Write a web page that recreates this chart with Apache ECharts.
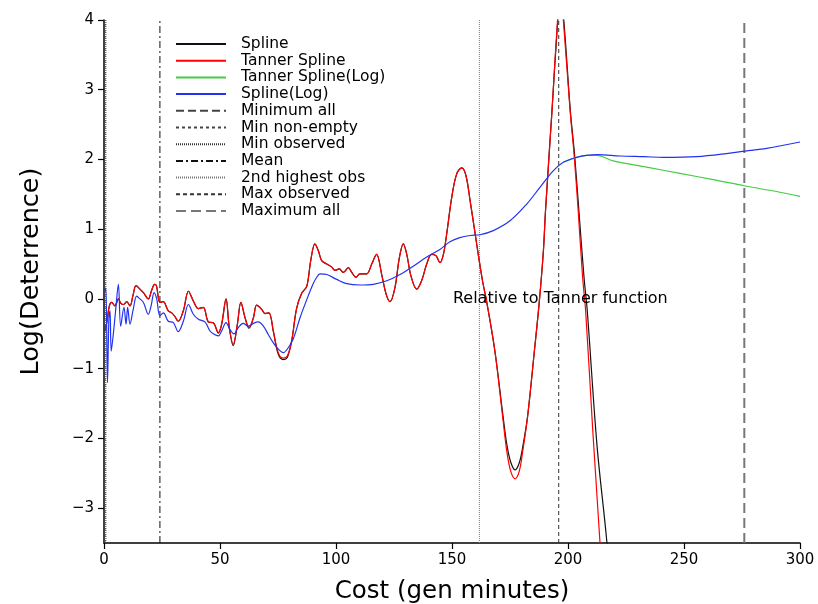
<!DOCTYPE html>
<html>
<head>
<meta charset="utf-8">
<title>Log(Deterrence) vs Cost</title>
<script src="https://cdn.jsdelivr.net/npm/echarts@6/dist/echarts.min.js"></script>
<style>
  html, body { margin: 0; padding: 0; background: #fff; }
  #chart { width: 818px; height: 604px; }
</style>
</head>
<body>
<div id="chart"></div>
<script>
// Axis bounds and tick labels
const xMin = 0, xMax = 300;
const yMin = -3.5, yMax = 4;
const xTicks = [0, 50, 100, 150, 200, 250, 300];
const yTicks = [-3, -2, -1, 0, 1, 2, 3, 4];

// Fitted deterrence curves: [cost, log(deterrence)]
const splineData = [
  [0.5,-0.45],[1.3,-0.32],[2.3,-0.1],[3.3,-0.05],[4.7,-0.1],[6.2,0.0],[7.2,-0.06],[8.3,-0.08],
  [9.8,-0.04],[11.2,-0.1],[12.5,0.05],[13.8,0.19],[15.5,0.14],[17,0.09],[19.1,0.0],[20.5,0.12],
  [21.8,0.21],[22.6,0.19],[24.1,-0.05],[25.5,-0.04],[27.7,-0.17],[29.2,-0.2],[30.5,-0.25],[32,-0.32],
  [34.2,-0.17],[36.4,0.11],[38.5,-0.03],[40.7,-0.14],[42.8,-0.12],[45,-0.33],[47.1,-0.34],[49.3,-0.49],
  [50.7,-0.37],[52.6,0.0],[54,-0.41],[55.7,-0.67],[57.5,-0.36],[59,-0.05],[60.8,-0.27],[62.5,-0.42],
  [64.4,-0.27],[65.8,-0.09],[68,-0.15],[69.4,-0.21],[71.1,-0.2],[73,-0.47],[75.1,-0.79],[77.3,-0.87],
  [79,-0.84],[80.9,-0.6],[83,-0.14],[85.2,0.08],[87.4,0.18],[89.1,0.55],[90.9,0.79],[92.4,0.69],
  [93.8,0.55],[96,0.5],[98.1,0.46],[99.6,0.41],[101.4,0.43],[103.2,0.38],[105.3,0.45],[106.8,0.38],
  [108.6,0.31],[110.3,0.36],[113.2,0.36],[115.4,0.5],[117.5,0.64],[119.7,0.35],[121.6,0.07],[123.3,-0.04],
  [125.4,0.16],[127.3,0.59],[129,0.79],[130.5,0.64],[132.3,0.33],[134.8,0.14],[136.9,0.26],[139.1,0.5],
  [141.2,0.64],[143.1,0.62],[144.8,0.52],[146.3,0.64],[147.7,0.93],[149.9,1.46],[152,1.79],[154.2,1.88],
  [156,1.77],[157.8,1.41],[159.9,0.95],[161.5,0.6],[163.2,0.25],[165,-0.05],[168.5,-0.75],[172,-1.68],
  [173.7,-2.1],[175.4,-2.35],[177.2,-2.45],[179,-2.35],[180.6,-2.1],[182.6,-1.68],[185.5,-0.75],[187.6,-0.05],
  [189.4,0.69],[190.3,1.26],[193.1,2.7],[195.5,3.95],[196.8,4.4],[198.3,3.95],[201,2.7],[202.8,2.08],
  [204.7,1.26],[206.9,0.31],[208.3,-0.17],[212.5,-2.1],[216.8,-3.5],[218,-4.1]
];
const tannerSplineData = [
  [0.5,-0.45],[1.3,-0.32],[2.3,-0.1],[3.3,-0.05],[4.7,-0.1],[6.2,0.0],[7.2,-0.06],[8.3,-0.08],
  [9.8,-0.04],[11.2,-0.1],[12.5,0.05],[13.8,0.19],[15.5,0.14],[17,0.09],[19.1,0.0],[20.5,0.12],
  [21.8,0.21],[22.6,0.19],[24.1,-0.05],[25.5,-0.04],[27.7,-0.17],[29.2,-0.2],[30.5,-0.25],[32,-0.32],
  [34.2,-0.17],[36.4,0.11],[38.5,-0.03],[40.7,-0.14],[42.8,-0.12],[45,-0.33],[47.1,-0.34],[49.3,-0.48],
  [50.7,-0.36],[52.6,0.0],[54,-0.41],[55.7,-0.65],[57.5,-0.36],[59,-0.05],[60.8,-0.27],[62.5,-0.41],
  [64.4,-0.27],[65.8,-0.09],[68,-0.15],[69.4,-0.21],[71.1,-0.2],[73,-0.46],[75.1,-0.77],[77.3,-0.85],
  [79,-0.82],[80.9,-0.6],[83,-0.14],[85.2,0.08],[87.4,0.18],[89.1,0.55],[90.9,0.79],[92.4,0.69],
  [93.8,0.55],[96,0.5],[98.1,0.46],[99.6,0.41],[101.4,0.43],[103.2,0.38],[105.3,0.45],[106.8,0.38],
  [108.6,0.31],[110.3,0.36],[113.2,0.36],[115.4,0.5],[117.5,0.64],[119.7,0.35],[121.6,0.07],[123.3,-0.04],
  [125.4,0.16],[127.3,0.59],[129,0.79],[130.5,0.64],[132.3,0.33],[134.8,0.14],[136.9,0.26],[139.1,0.5],
  [141.2,0.64],[143.1,0.62],[144.8,0.52],[146.3,0.64],[147.7,0.93],[149.9,1.46],[152,1.79],[154.2,1.88],
  [156,1.77],[157.8,1.41],[159.9,0.95],[161.5,0.6],[163.2,0.25],[165,-0.05],[168.5,-0.75],[171.9,-1.71],
  [173.6,-2.18],[175.3,-2.47],[177.2,-2.58],[179,-2.47],[180.5,-2.18],[182.5,-1.71],[185.5,-0.75],[187.6,-0.05],
  [189.4,0.69],[190.3,1.26],[193.1,2.7],[195.4,3.95],[196.7,4.4],[198.1,3.95],[200.9,2.7],[202.6,2.08],
  [204.4,1.26],[206.3,0.31],[207.6,-0.17],[210.7,-1.9],[213.8,-3.5],[215,-4.2]
];
const tannerSplineLogData = [
  [198,1.96],[203.7,2.03],[208,2.06],[212.4,2.06],[219.5,1.98],[233.9,1.89],[248.3,1.80],
  [262.6,1.71],[276.3,1.62],[291.4,1.53],[300,1.47]
];
const splineLogData = [
  [0.3,0.1],[0.8,0.16],[1.5,-1.2],[2.1,-0.3],[2.6,-0.17],[3.1,-0.75],[4,-0.51],[5,-0.17],
  [6.2,0.21],[7.2,-0.39],[8.6,-0.12],[9.5,-0.36],[10.2,-0.12],[11.2,-0.36],[12.6,-0.15],[14.1,0.04],
  [15.5,0.0],[17,-0.05],[19.1,-0.22],[20.3,-0.1],[21.6,0.09],[22.7,0.0],[24.1,-0.24],[25.6,-0.2],
  [27.7,-0.32],[29.9,-0.34],[32,-0.47],[34.2,-0.32],[36.4,-0.08],[38.5,-0.22],[40.7,-0.29],[43.5,-0.33],
  [45.7,-0.46],[47.1,-0.5],[49.3,-0.53],[50.7,-0.46],[52.6,-0.34],[54.3,-0.44],[56,-0.5],[57.9,-0.41],
  [60,-0.35],[62.2,-0.39],[64.4,-0.35],[66.5,-0.33],[68.7,-0.39],[70.8,-0.51],[73,-0.63],[75.1,-0.72],
  [77.3,-0.77],[79.4,-0.7],[81.6,-0.57],[84.5,-0.27],[87.4,-0.01],[90.2,0.22],[91.5,0.3],[93.1,0.36],
  [96,0.35],[100.3,0.28],[104.6,0.22],[110.3,0.2],[116.1,0.21],[121.9,0.26],[127.6,0.35],[133.3,0.47],
  [139.1,0.6],[144.8,0.71],[149.1,0.82],[153.4,0.88],[157.8,0.91],[162,0.92],[167.8,0.98],[175,1.12],
  [182.2,1.36],[187.9,1.6],[193.7,1.84],[198,1.96],[203.7,2.03],[208,2.06],[213,2.07],[222.4,2.05],
  [233,2.04],[241.1,2.03],[255.5,2.04],[269.8,2.09],[276.3,2.12],[285.6,2.16],[300,2.25]
];

// Reference costs marked by vertical lines
const refNames = ['Minimum all', 'Min non-empty', 'Min observed', 'Mean', '2nd highest obs', 'Max observed', 'Maximum all'];
const refCosts = [0, 0.4, 0.8, 24.1, 161.8, 196, 276];

const annotationText = 'Relative to Tanner function';
const annotationAt = [150.4, 0];

// Styling for the reference lines (same order as refNames)
const refStyles = [
  { color: '#444', width: 1, type: [8, 4] },
  { color: '#444', width: 1, type: [3, 3] },
  { color: '#333', width: 1, type: [1, 1] },
  { color: '#111', width: 1, type: [7, 3, 2, 3] },
  { color: '#777', width: 1, type: [1, 1] },
  { color: '#333', width: 1, type: [4, 3] },
  { color: '#777', width: 2, type: [10, 5] }
];

const curveDefs = [
  { name: 'Spline', data: splineData, color: '#111' },
  { name: 'Tanner Spline', data: tannerSplineData, color: '#ff0000' },
  { name: 'Tanner Spline(Log)', data: tannerSplineLogData, color: '#44cc44' },
  { name: 'Spline(Log)', data: splineLogData, color: '#2233ee' }
];

const FONT = 'DejaVu Sans';
const minus = (v) => String(v).replace('-', '\u2212');

const series = [];
refNames.forEach((name, i) => {
  series.push({
    name: name,
    type: 'line',
    data: [[refCosts[i], yMin], [refCosts[i], yMax]],
    symbol: 'none',
    lineStyle: refStyles[i],
    itemStyle: { color: refStyles[i].color },
    silent: true,
    z: 1
  });
});
curveDefs.forEach((c) => {
  series.push({
    name: c.name,
    type: 'line',
    data: c.data,
    smooth: 0.35,
    symbol: 'none',
    clip: true,
    lineStyle: { color: c.color, width: 1.2 },
    itemStyle: { color: c.color },
    z: 3
  });
});
series.push({
  name: 'annotation',
  type: 'scatter',
  data: [annotationAt],
  symbolSize: 0,
  silent: true,
  itemStyle: { opacity: 1 },
  label: {
    show: true,
    position: 'right',
    distance: 0,
    formatter: annotationText,
    color: '#000',
    opacity: 1,
    fontFamily: FONT,
    fontSize: 16
  },
  z: 5
});

const chart = echarts.init(document.getElementById('chart'), null, { renderer: 'canvas' });
chart.setOption({
  animation: false,
  backgroundColor: '#fff',
  grid: { left: 104, right: 18, top: 20, bottom: 61, containLabel: false, outerBoundsMode: 'none' },
  legend: {
    data: curveDefs.map(c => c.name).concat(refNames),
    orient: 'vertical',
    left: 170,
    top: 31,
    itemWidth: 50,
    itemHeight: 10,
    itemGap: 0.7,
    itemStyle: { opacity: 0 },
    textStyle: { fontFamily: FONT, fontSize: 15.5, color: '#000', lineHeight: 16, padding: [0, 0, 0, 10] },
    selectedMode: false
  },
  xAxis: {
    type: 'value',
    min: xMin,
    max: xMax,
    interval: 50,
    name: 'Cost (gen minutes)',
    nameLocation: 'middle',
    nameGap: 36,
    nameTextStyle: { fontFamily: FONT, fontSize: 24.5, color: '#000' },
    axisLine: { show: true, onZero: false, lineStyle: { color: '#000', width: 1.5 } },
    axisTick: { show: true, length: 6, lineStyle: { color: '#000', width: 1.2 } },
    axisLabel: {
      customValues: xTicks,
      formatter: minus,
      fontFamily: FONT, fontSize: 15, color: '#000', margin: 10
    },
    splitLine: { show: false }
  },
  yAxis: {
    type: 'value',
    min: yMin,
    max: yMax,
    name: 'Log(Deterrence)',
    nameLocation: 'middle',
    nameGap: 60,
    nameRotate: 90,
    nameTextStyle: { fontFamily: FONT, fontSize: 25.5, color: '#000', padding: [0, 0, 0, 20] },
    axisLine: { show: true, onZero: false, lineStyle: { color: '#000', width: 1.5 } },
    axisTick: { show: true, length: 6, customValues: yTicks, lineStyle: { color: '#000', width: 1.2 } },
    axisLabel: {
      customValues: yTicks,
      formatter: minus,
      fontFamily: FONT, fontSize: 15, color: '#000', margin: 10
    },
    splitLine: { show: false }
  },
  series: series
});
</script>
</body>
</html>
